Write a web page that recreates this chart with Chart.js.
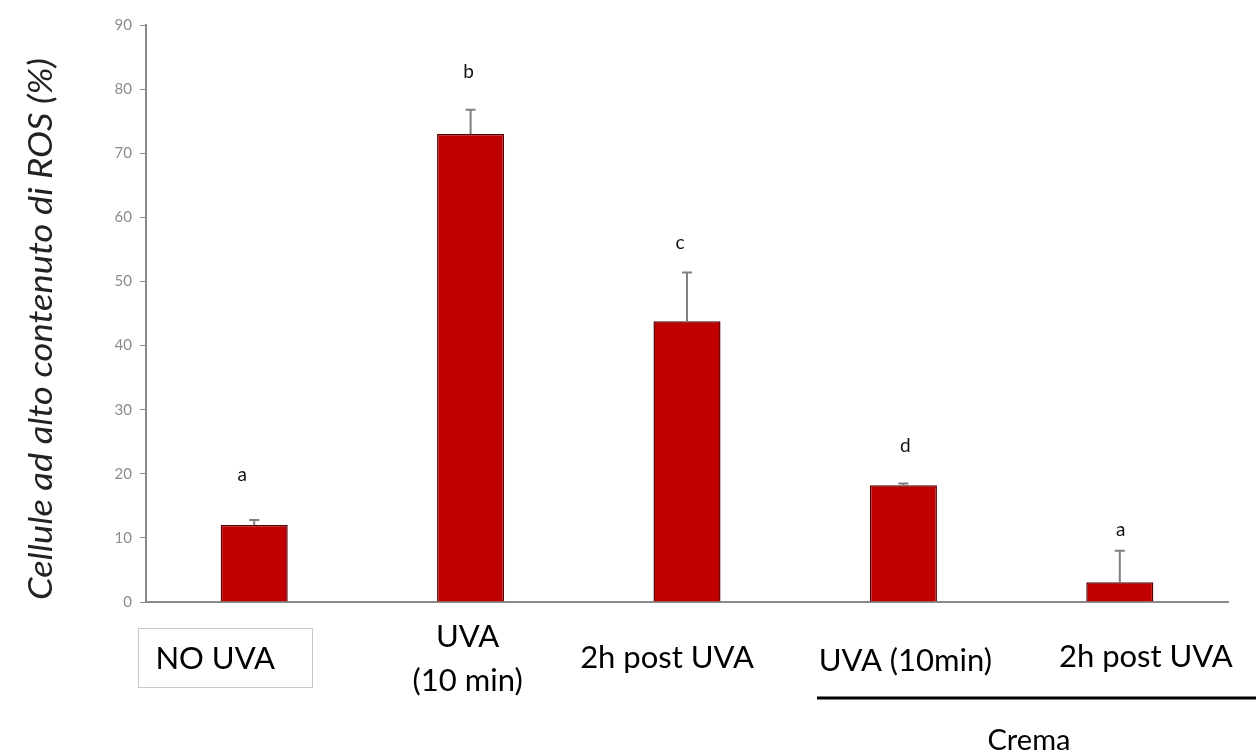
<!DOCTYPE html>
<html>
<head>
<meta charset="utf-8">
<script src="https://cdn.jsdelivr.net/npm/chart.js@4.4.1/dist/chart.umd.min.js"></script>
<style>
  html, body { margin: 0; padding: 0; background: #ffffff; }
  #wrap { width: 1256px; height: 753px; position: relative; }
</style>
</head>
<body>
<div id="wrap"><canvas id="c" width="1256" height="753"></canvas></div>
<script>
// Groups and measured values
const categories = ['NO UVA', 'UVA (10 min)', '2h post UVA', 'Crema UVA (10min)', 'Crema 2h post UVA'];
const labelLines = [['NO UVA'], ['UVA', '(10 min)'], ['2h post UVA'], ['UVA (10min)'], ['2h post UVA']];
const rosValues = [12, 73, 43.8, 18.2, 3.1];
const rosErrors = [0.8, 3.8, 7.6, 0.3, 4.9];
const letters = ['a', 'b', 'c', 'd', 'a'];
const yTicks = [0, 10, 20, 30, 40, 50, 60, 70, 80, 90];
const yTitle = 'Cellule ad alto contenuto di ROS (%)';
const groupLabel = 'Crema';

const FONT = 'Lato, "Open Sans", sans-serif';

// Error bars, significance letters, custom category labels and group bracket
const annotations = {
  id: 'annotations',
  afterDatasetsDraw(chart) {
    const ctx = chart.ctx;
    const y = chart.scales.y;
    const meta = chart.getDatasetMeta(0);
    // letter placement relative to the whisker top (px)
    const letterGap = [45, 38, 30, 38, 21];
    const letterShift = [-12, -2, -7, 2, 1];
    ctx.save();
    rosValues.forEach((v, i) => {
      const cx = meta.data[i].x;
      const top = y.getPixelForValue(v);
      const eTop = y.getPixelForValue(v + rosErrors[i]);
      ctx.strokeStyle = '#7f7f7f';
      ctx.lineWidth = 2;
      ctx.beginPath();
      ctx.moveTo(cx, top);
      ctx.lineTo(cx, eTop);
      ctx.moveTo(cx - 5, eTop);
      ctx.lineTo(cx + 5, eTop);
      ctx.stroke();
      ctx.fillStyle = '#111';
      ctx.font = '19px ' + FONT;
      ctx.textAlign = 'center';
      ctx.textBaseline = 'middle';
      ctx.fillText(letters[i], cx + letterShift[i], eTop - letterGap[i]);
    });
    ctx.restore();
  },
  afterDraw(chart) {
    const ctx = chart.ctx;
    const x = chart.scales.x;
    const area = chart.chartArea;
    ctx.save();
    ctx.fillStyle = '#000';
    ctx.font = '31px ' + FONT;
    ctx.textAlign = 'center';
    ctx.textBaseline = 'middle';
    const offsets = [-39, -3, -20, 2, 26];
    labelLines.forEach((lines, i) => {
      const cx = x.getPixelForValue(i) + offsets[i];
      if (lines.length === 1) {
        const ly = area.bottom + [57, 0, 56, 59, 55][i];
        ctx.fillText(lines[0], cx, ly);
        if (i === 0) {
          ctx.strokeStyle = '#c8c8c8';
          ctx.lineWidth = 1;
          ctx.strokeRect(138.5, area.bottom + 26.5, 174, 59);
        }
      } else {
        ctx.fillText(lines[0], cx, area.bottom + 35);
        ctx.fillText(lines[1], cx, area.bottom + 79);
      }
    });
    // group bracket
    ctx.strokeStyle = '#000';
    ctx.lineWidth = 3;
    ctx.beginPath();
    ctx.moveTo(817, area.bottom + 96);
    ctx.lineTo(1256, area.bottom + 96);
    ctx.stroke();
    ctx.font = '29px ' + FONT;
    ctx.fillText(groupLabel, 1029, area.bottom + 139);
    // y title, stretched along its length
    ctx.font = 'italic 33px ' + FONT;
    const w = ctx.measureText(yTitle).width;
    ctx.translate(41, 329);
    ctx.rotate(-Math.PI / 2);
    ctx.scale(542 / w, 1);
    ctx.fillStyle = '#222';
    ctx.fillText(yTitle, 0, 0);
    ctx.restore();
  }
};

new Chart(document.getElementById('c'), {
  type: 'bar',
  data: {
    labels: categories,
    datasets: [{
      data: rosValues,
      backgroundColor: '#c00000',
      borderColor: '#5a0000',
      borderWidth: 1.5,
      barPercentage: 0.31,
      categoryPercentage: 1.0
    }]
  },
  options: {
    responsive: false,
    animation: false,
    layout: { padding: { top: 25, right: 28, bottom: 151, left: 0 } },
    plugins: { legend: { display: false }, tooltip: { enabled: false } },
    scales: {
      x: {
        offset: true,
        ticks: { display: false },
        grid: { display: false, drawTicks: false },
        border: { display: true, color: '#8a8a8a', width: 2 }
      },
      y: {
        min: 0, max: 90,
        afterFit(scale) { scale.width = 146; },
        afterBuildTicks(scale) { scale.ticks = yTicks.map(v => ({ value: v })); },
        ticks: { color: '#8c8c8c', font: { size: 15, family: FONT }, padding: 8 },
        grid: { drawOnChartArea: false, tickLength: 6, color: '#8a8a8a' },
        border: { display: true, color: '#8a8a8a', width: 2 }
      }
    }
  },
  plugins: [annotations]
});
</script>
</body>
</html>
